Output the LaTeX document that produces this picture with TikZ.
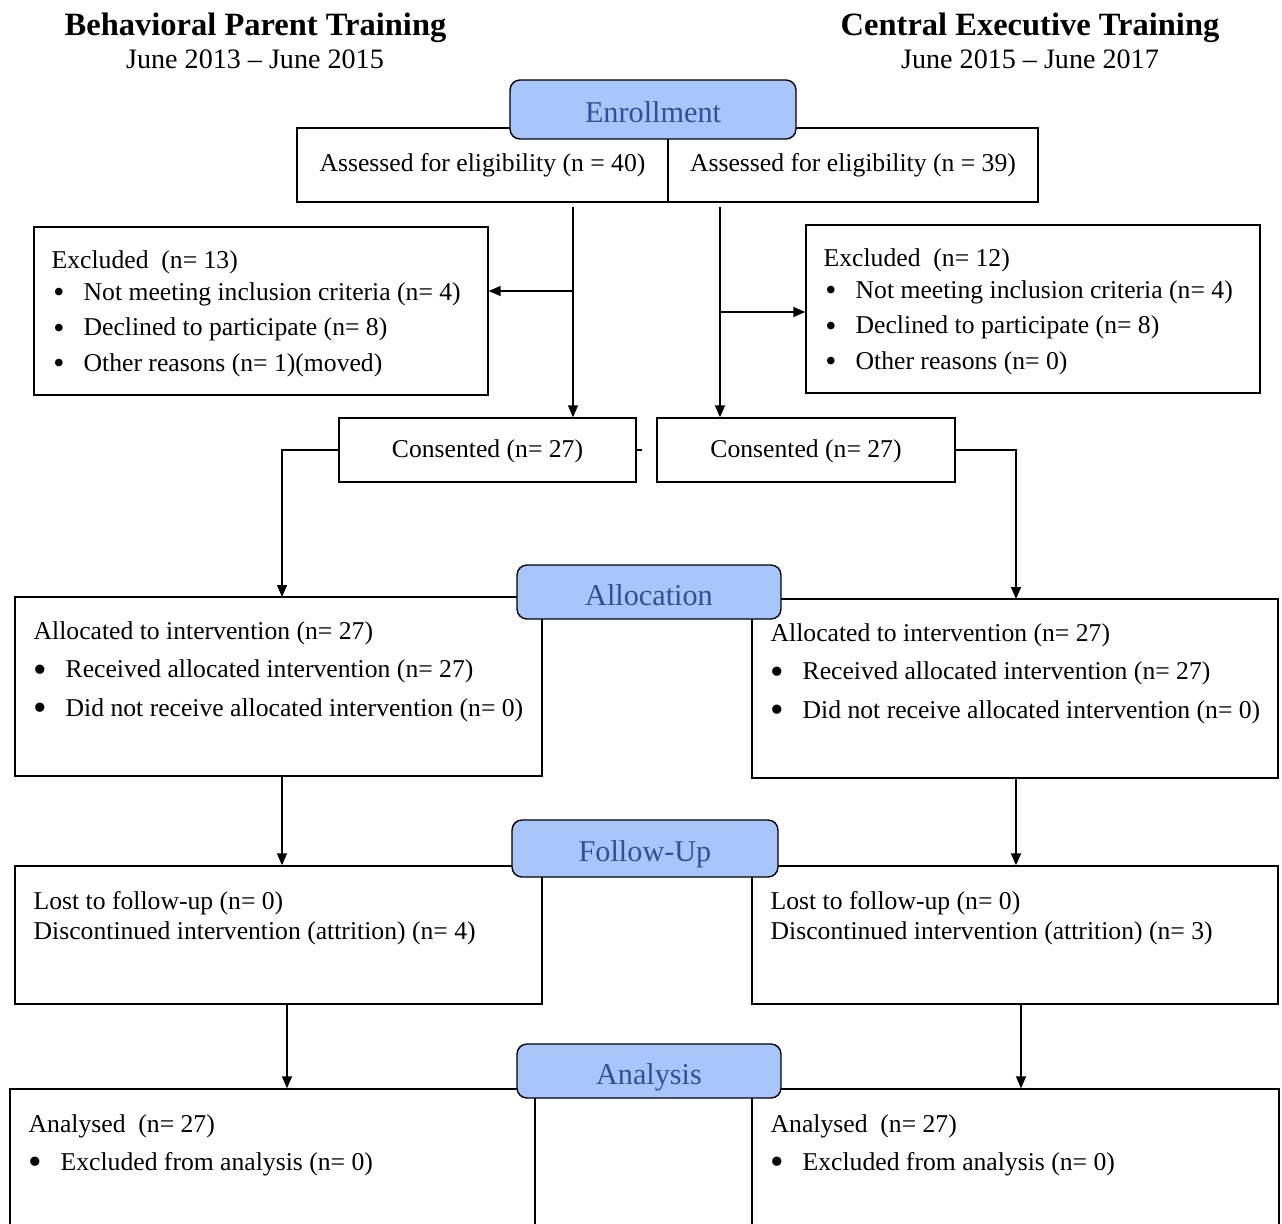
\documentclass[tikz,border=0pt]{standalone}
\usepackage{fontspec}
\setmainfont{Liberation Serif}
\usetikzlibrary{arrows.meta}
\definecolor{hdrfill}{RGB}{168,198,250}
\definecolor{hdrtext}{RGB}{50,80,150}
\newcommand{\itm}{\makebox[0.64cm][l]{\hspace{1pt}\raisebox{-1.2pt}{\fontsize{18}{17}\selectfont\textbullet}}}
\newcommand{\itmb}{\makebox[0.64cm][l]{\raisebox{-2.5pt}{\fontsize{22}{17}\selectfont\textbullet}}}
\begin{document}
\begin{tikzpicture}[x=0.02cm, y=-0.02cm,
    box/.style={draw, line width=0.8pt, inner sep=0pt},
    hdr/.style={draw, line width=0.8pt, rounded corners=0.2cm, fill=hdrfill,
      text=hdrtext, text height=15pt, text depth=0pt, font=\fontsize{17.2}{20}\selectfont},
    txt/.style={font=\fontsize{14.6}{17}\selectfont, align=left, inner sep=0pt},
    arr/.style={line width=0.8pt, -{Triangle[length=0.24cm,width=0.2cm]}}]

  \useasboundingbox (0,0) rectangle (1282,1224);

  % titles
  \node[font=\fontsize{18.5}{22}\selectfont\bfseries, anchor=base] (bptT) at (255.5,35) {Behavioral Parent Training};
  \node[font=\fontsize{16}{19}\selectfont, anchor=base] (bptD) at (255,68) {June 2013 – June 2015};
  \node[font=\fontsize{18.5}{22}\selectfont\bfseries, anchor=base] (cetT) at (1030,35) {Central Executive Training};
  \node[font=\fontsize{16}{19}\selectfont, anchor=base] (cetD) at (1030,68) {June 2015 – June 2017};

  % enrollment
  \node[box, txt, minimum width=7.42cm, minimum height=1.48cm] (assessL) at (482.5,165) {Assessed for eligibility (n = 40)};
  \node[box, txt, minimum width=7.40cm, minimum height=1.48cm] (assessR) at (853,165) {Assessed for eligibility (n = 39)};

  \node[box, minimum width=9.08cm, minimum height=3.36cm] (exclL) at (261,311) {};
  \node[txt, anchor=north west] (exclLt) at ([shift={(18,24)}]exclL.north west)
    {Excluded\ \ (n= 13)\\[1pt]
     \itm Not meeting inclusion criteria (n= 4)\\[3.4pt]
     \itm Declined to participate (n= 8)\\[3.4pt]
     \itm Other reasons (n= 1)(moved)};

  \node[box, minimum width=9.08cm, minimum height=3.36cm] (exclR) at (1033,309) {};
  \node[txt, anchor=north west] (exclRt) at ([shift={(18,24)}]exclR.north west)
    {Excluded\ \ (n= 12)\\[1pt]
     \itm Not meeting inclusion criteria (n= 4)\\[3.4pt]
     \itm Declined to participate (n= 8)\\[3.4pt]
     \itm Other reasons (n= 0)};

  \node[box, txt, minimum width=5.94cm, minimum height=1.28cm, text height=12pt] (consL) at (487.5,450) {Consented (n= 27)};
  \node[box, txt, minimum width=5.96cm, minimum height=1.28cm, text height=12pt] (consR) at (806,450) {Consented (n= 27)};

  % allocation
  \node[box, minimum width=10.54cm, minimum height=3.58cm] (allocL) at (278.5,686.5) {};
  \node[txt, anchor=north west] (allocLt) at ([shift={(19,25)}]allocL.north west)
    {Allocated to intervention (n= 27)\\[4.8pt]
     \itmb Received allocated intervention (n= 27)\\[4.8pt]
     \itmb Did not receive allocated intervention (n= 0)};

  \node[box, minimum width=10.52cm, minimum height=3.58cm] (allocR) at (1015,688.5) {};
  \node[txt, anchor=north west] (allocRt) at ([shift={(19,25)}]allocR.north west)
    {Allocated to intervention (n= 27)\\[4.8pt]
     \itmb Received allocated intervention (n= 27)\\[4.8pt]
     \itmb Did not receive allocated intervention (n= 0)};

  % follow-up
  \node[box, minimum width=10.54cm, minimum height=2.76cm] (followL) at (278.5,935) {};
  \node[txt, anchor=north west] (followLt) at ([shift={(19,26)}]followL.north west)
    {Lost to follow-up (n= 0)\\
     Discontinued intervention (attrition) (n= 4)};

  \node[box, minimum width=10.52cm, minimum height=2.76cm] (followR) at (1015,935) {};
  \node[txt, anchor=north west] (followRt) at ([shift={(19,26)}]followR.north west)
    {Lost to follow-up (n= 0)\\
     Discontinued intervention (attrition) (n= 3)};

  % analysis
  \node[box, minimum width=10.5cm, minimum height=3.02cm] (anaL) at (272.5,1164.5) {};
  \node[txt, anchor=north west] (anaLt) at ([shift={(19,26)}]anaL.north west)
    {Analysed\ \ (n= 27)\\[4.5pt]
     \itmb Excluded from analysis (n= 0)};

  \node[box, minimum width=10.54cm, minimum height=3.02cm] (anaR) at (1015.5,1164.5) {};
  \node[txt, anchor=north west] (anaRt) at ([shift={(19,26)}]anaR.north west)
    {Analysed\ \ (n= 27)\\[4.5pt]
     \itmb Excluded from analysis (n= 0)};

  % stage headers
  \node[hdr, minimum width=5.72cm, minimum height=1.18cm] (enroll) at (653,109.5) {Enrollment};
  \node[hdr, minimum width=5.28cm, minimum height=1.08cm] (alloc) at (649,592) {Allocation};
  \node[hdr, minimum width=5.32cm, minimum height=1.14cm] (follow) at (645,848.5) {Follow-Up};
  \node[hdr, minimum width=5.28cm, minimum height=1.08cm] (ana) at (649,1071) {Analysis};

  % connectors
  \coordinate (sL) at (573,207);
  \coordinate (sR) at (720,207);
  \coordinate (bL) at (573,291);
  \coordinate (bR) at (720,312);
  \draw[arr] (sL) -- (sL |- consL.north);
  \draw[arr] (sR) -- (sR |- consR.north);
  \draw[arr] (bL) -- (bL -| exclL.east);
  \draw[arr] (bR) -- (bR -| exclR.west);
  \draw[line width=0.8pt] (consL.east) -- ++(5,0);

  \coordinate (tL) at (282,597);
  \coordinate (tR) at (1016,599);
  \draw[arr] (consL.west) -| (tL);
  \draw[arr] (consR.east) -| (tR);
  \draw[arr] (allocL.south -| tL) -- (followL.north -| tL);
  \draw[arr] (allocR.south -| tR) -- (followR.north -| tR);

  \coordinate (uL) at (287,1004);
  \coordinate (uR) at (1021,1004);
  \draw[arr] (uL) -- (uL |- anaL.north);
  \draw[arr] (uR) -- (uR |- anaR.north);
\end{tikzpicture}
\end{document}
